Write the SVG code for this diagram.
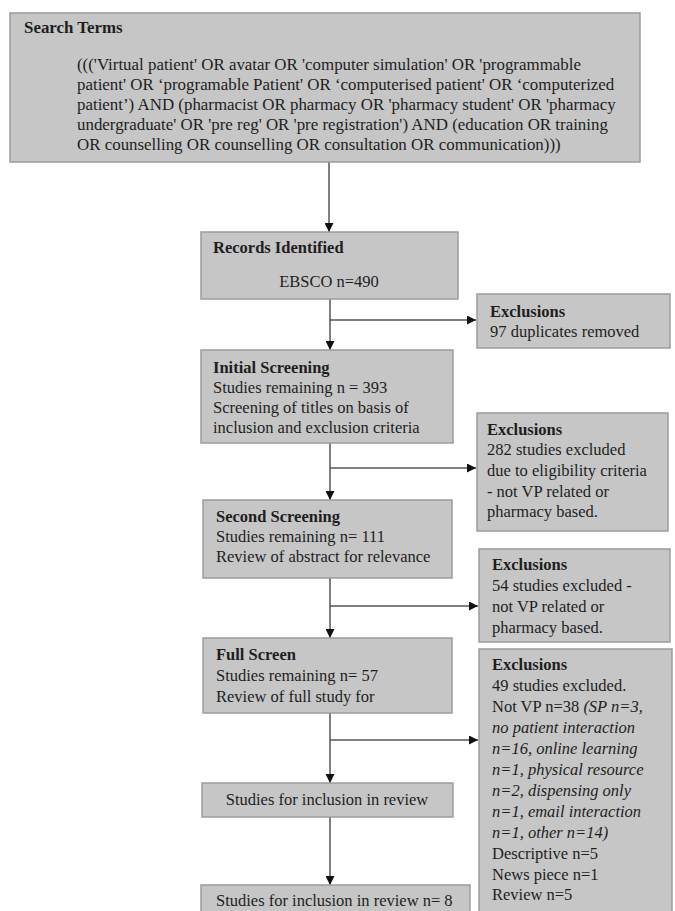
<svg xmlns="http://www.w3.org/2000/svg" width="675" height="911" viewBox="0 0 675 911">
<style>
.box{fill:#c6c6c6;stroke:#9c9c9c;stroke-width:1.5}
text{font-family:"Liberation Serif","Times New Roman",serif;font-size:16.5px;fill:#1e1e1e}
.b{font-weight:bold}
.i{font-style:italic}
.s{font-size:16.9px}
.c{stroke:#555;stroke-width:1.5;fill:none}
</style>
<defs>
<marker id="ah" viewBox="0 0 10 10" refX="10" refY="5" markerWidth="9" markerHeight="9" markerUnits="userSpaceOnUse" orient="auto">
<path d="M0,0 L10,5 L0,10 Z" fill="#111"/>
</marker>
</defs>
<rect width="675" height="911" fill="#fff"/>
<g id="connectors">
<line class="c" x1="329" y1="162" x2="329" y2="232" marker-end="url(#ah)"/>
<line class="c" x1="330" y1="299" x2="330" y2="350" marker-end="url(#ah)"/>
<line class="c" x1="330" y1="320" x2="476" y2="320" marker-end="url(#ah)"/>
<line class="c" x1="330" y1="443" x2="330" y2="500" marker-end="url(#ah)"/>
<line class="c" x1="330" y1="468" x2="476" y2="468" marker-end="url(#ah)"/>
<line class="c" x1="330" y1="578" x2="330" y2="638" marker-end="url(#ah)"/>
<line class="c" x1="330" y1="606" x2="478" y2="606" marker-end="url(#ah)"/>
<line class="c" x1="330" y1="713" x2="330" y2="783" marker-end="url(#ah)"/>
<line class="c" x1="330" y1="740" x2="478" y2="740" marker-end="url(#ah)"/>
<line class="c" x1="330" y1="817" x2="330" y2="885" marker-end="url(#ah)"/>
</g>
<g id="search">
<rect class="box" x="10" y="13" width="630" height="149"/>
<text class="b s" x="24" y="33">Search Terms</text>
<text class="s" x="77" y="70">((('Virtual patient' OR avatar OR 'computer simulation' OR 'programmable</text>
<text class="s" x="77" y="90">patient' OR ‘programable Patient' OR ‘computerised patient' OR ‘computerized</text>
<text class="s" x="77" y="110">patient’) AND (pharmacist OR pharmacy OR 'pharmacy student' OR 'pharmacy</text>
<text class="s" x="77" y="130">undergraduate' OR 'pre reg' OR 'pre registration') AND (education OR training</text>
<text class="s" x="77" y="150">OR counselling OR counselling OR consultation OR communication)))</text>
</g>
<g id="records">
<rect class="box" x="201" y="232" width="257" height="67"/>
<text class="b" x="213" y="253">Records Identified</text>
<text x="329" y="287" text-anchor="middle">EBSCO n=490</text>
</g>
<g id="excl1">
<rect class="box" x="477" y="294" width="193" height="54"/>
<text class="b" x="490" y="317">Exclusions</text>
<text x="490" y="337">97 duplicates removed</text>
</g>
<g id="initial">
<rect class="box" x="201" y="350" width="252" height="93"/>
<text class="b" x="213" y="373">Initial Screening</text>
<text x="213" y="393">Studies remaining n = 393</text>
<text x="213" y="413">Screening of titles on basis of</text>
<text x="213" y="433">inclusion and exclusion criteria</text>
</g>
<g id="excl2">
<rect class="box" x="477" y="413" width="191" height="118"/>
<text class="b" x="487" y="435">Exclusions</text>
<text x="487" y="455">282 studies excluded</text>
<text x="487" y="476">due to eligibility criteria</text>
<text x="487" y="497">- not VP related or</text>
<text x="487" y="517">pharmacy based.</text>
</g>
<g id="second">
<rect class="box" x="203" y="500" width="249" height="78"/>
<text class="b" x="216" y="522">Second Screening</text>
<text x="216" y="542">Studies remaining n= 111</text>
<text x="216" y="562">Review of abstract for relevance</text>
</g>
<g id="excl3">
<rect class="box" x="479" y="549" width="191" height="93"/>
<text class="b" x="492" y="570">Exclusions</text>
<text x="492" y="591">54 studies excluded -</text>
<text x="492" y="612">not VP related or</text>
<text x="492" y="633">pharmacy based.</text>
</g>
<g id="full">
<rect class="box" x="203" y="638" width="249" height="75"/>
<text class="b" x="216" y="660">Full Screen</text>
<text x="216" y="681">Studies remaining n= 57</text>
<text x="216" y="702">Review of full study for</text>
</g>
<g id="excl4">
<rect class="box" x="479" y="649" width="193" height="280"/>
<text class="b" x="492" y="670">Exclusions</text>
<text x="492" y="691">49 studies excluded.</text>
<text x="492" y="712">Not VP n=38 <tspan class="i">(SP n=3,</tspan></text>
<text class="i" x="492" y="733">no patient interaction</text>
<text class="i" x="492" y="754">n=16, online learning</text>
<text class="i" x="492" y="775">n=1, physical resource</text>
<text class="i" x="492" y="796">n=2, dispensing only</text>
<text class="i" x="492" y="817">n=1, email interaction</text>
<text class="i" x="492" y="838">n=1, other n=14)</text>
<text x="492" y="859">Descriptive n=5</text>
<text x="492" y="880">News piece n=1</text>
<text x="492" y="900">Review n=5</text>
</g>
<g id="studies">
<rect class="box" x="202" y="783" width="251" height="34"/>
<text x="327" y="805" text-anchor="middle">Studies for inclusion in review</text>
</g>
<g id="final">
<rect class="box" x="201" y="885" width="269" height="40"/>
<text x="216" y="906">Studies for inclusion in review n= 8</text>
</g>
</svg>
